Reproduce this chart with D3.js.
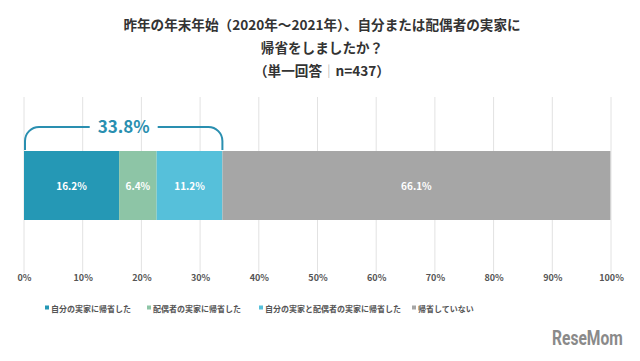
<!DOCTYPE html>
<html><head><meta charset="utf-8">
<script src="https://cdn.jsdelivr.net/npm/d3@7"></script>
<style>body{margin:0;background:#fff}svg{display:block}</style>
</head><body>
<svg id="c" width="640" height="361"></svg>
<script>
const categories = ["自分の実家に帰省した","配偶者の実家に帰省した","自分の実家と配偶者の実家に帰省した","帰省していない"];
const values = [16.2, 6.4, 11.2, 66.1];
const colors = ["#2598b5","#8dc5a6","#56c0da","#a6a6a6"];
const tickValues = [0,10,20,30,40,50,60,70,80,90,100];
const titleLines = ["昨年の年末年始（2020年～2021年）、自分または配偶者の実家に","帰省をしましたか？","（単一回答｜n=437）"];
const bracketLabel = "33.8%";

const svg = d3.select("#c");
const font = "'Noto Sans CJK JP','Noto Sans',sans-serif";
const x = d3.scaleLinear().domain([0,100]).range([24,611]);
const y = d3.scaleBand().domain(["a"]).range([151,220]);

// title
const tt = svg.selectAll("text.t").data(titleLines).join("text")
  .attr("x",322).attr("y",(d,i)=>30+i*23).attr("text-anchor","middle")
  .attr("font-family",font).attr("font-weight","bold").attr("font-size",13.6).attr("fill","#333");
tt.each(function(d){
  const parts = d.split("｜");
  const t = d3.select(this);
  parts.forEach((p,k)=>{
    if(k>0) t.append("tspan").attr("fill","#aaa").attr("font-weight","normal").text("｜");
    t.append("tspan").text(p);
  });
});

// gridlines
svg.append("g").selectAll("line").data(tickValues).join("line")
  .attr("x1",d=>x(d)).attr("x2",d=>x(d)).attr("y1",97).attr("y2",273)
  .attr("stroke","#e2e2e2").attr("stroke-width",1);

// axis labels
const ax = svg.append("g").attr("transform","translate(0,271)")
  .call(d3.axisBottom(x).tickValues(tickValues).tickSize(0).tickPadding(4).tickFormat(d=>d+"%"));
ax.select(".domain").remove();
ax.selectAll("text").attr("font-family",font).attr("font-weight","bold").attr("font-size",9).attr("fill","#555");

// bars
let cum = 0;
const segs = values.map((v,i)=>{const s={v,i,x0:cum,x1:cum+v};cum+=v;return s;});
svg.append("g").selectAll("rect").data(segs).join("rect")
  .attr("x",d=>x(d.x0)).attr("width",d=>x(d.x1)-x(d.x0))
  .attr("y",y("a")).attr("height",y.bandwidth()).attr("fill",d=>colors[d.i]);
svg.append("g").selectAll("text").data(segs).join("text")
  .attr("x",d=>(x(d.x0)+x(d.x1))/2).attr("y",y("a")+y.bandwidth()/2+4)
  .attr("text-anchor","middle").attr("font-family",font).attr("font-weight","bold")
  .attr("font-size",10).attr("fill","#fff").text(d=>d.v.toFixed(1)+"%");

// bracket
const bx0 = x(0)+1, bx1 = x(values[0]+values[1]+values[2]);
const by = 127, bb = 150, r = 14;
const mid = (bx0+bx1)/2, gap = 34;
const path = d3.path();
path.moveTo(bx0, bb); path.lineTo(bx0, by+r); path.arcTo(bx0, by, bx0+r, by, r); path.lineTo(mid-gap, by);
path.moveTo(mid+gap, by); path.lineTo(bx1-r, by); path.arcTo(bx1, by, bx1, by+r, r); path.lineTo(bx1, bb);
svg.append("path").attr("d",path.toString()).attr("fill","none").attr("stroke","#2a8fb0").attr("stroke-width",2);
svg.append("text").attr("x",mid).attr("y",by+6).attr("text-anchor","middle")
  .attr("font-family",font).attr("font-weight","bold").attr("font-size",17).attr("fill","#2a8fb0").text(bracketLabel);

// legend
const legX = [45, 147, 259, 412];
const lg = svg.append("g").selectAll("g").data(categories).join("g")
  .attr("transform",(d,i)=>`translate(${legX[i]},309)`);
lg.append("rect").attr("x",0).attr("y",-3.5).attr("width",4).attr("height",4).attr("fill",(d,i)=>colors[i]);
lg.append("text").attr("x",6).attr("y",0).attr("dy","0.35em").attr("font-family",font).attr("font-weight","bold")
  .attr("font-size",8).attr("fill","#555").text(d=>d);

// watermark
svg.append("g").attr("transform","translate(552,345) scale(0.78,1)")
  .append("text").attr("x",0).attr("y",0)
  .attr("font-family","'Roboto',sans-serif").attr("font-weight","bold").attr("font-size",20)
  .attr("fill","#8a8a8a").text("ReseMom");
</script>
</body></html>
